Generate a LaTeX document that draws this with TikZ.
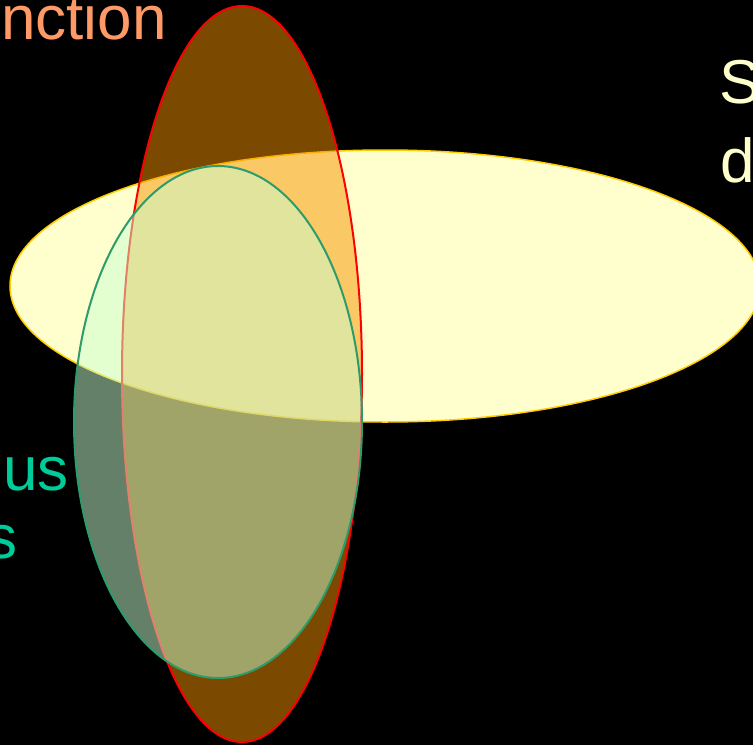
\documentclass[tikz,border=0pt]{standalone}
\usepackage{fontspec}
\setmainfont{Liberation Sans}
\definecolor{bgblack}{RGB}{0,0,0}
\definecolor{redfill}{RGB}{246,148,0}
\definecolor{redline}{RGB}{255,0,0}
\definecolor{yelfill}{RGB}{255,255,206}
\definecolor{yelline}{RGB}{255,204,0}
\definecolor{grnfill}{RGB}{200,255,210}
\definecolor{grnline}{RGB}{46,155,106}
\definecolor{txtorange}{RGB}{255,153,102}
\definecolor{txtyellow}{RGB}{255,255,204}
\definecolor{txtgreen}{RGB}{0,204,153}
\tikzset{
  lbl/.style={inner sep=0pt, font=\fontsize{62}{74}\selectfont},
}
\begin{document}
\begin{tikzpicture}[x=1pt,y=-1pt]
\fill[bgblack] (0,0) rectangle (753,745);
\useasboundingbox (0,0) rectangle (753,745);
% yellow ellipse (opaque)
\filldraw[fill=yelfill, draw=yelline, line width=1.5pt] (385,286) ellipse [x radius=375, y radius=136];
% red ellipse (half transparent fill)
\filldraw[fill=redfill, fill opacity=0.5, draw=redline, line width=2pt] (242,374) ellipse [x radius=120, y radius=368];
% green ellipse (half transparent fill)
\filldraw[fill=grnfill, fill opacity=0.5, draw=grnline, line width=2pt] (218,422) ellipse [x radius=144, y radius=256];
% labels
\node[lbl, text=txtorange, anchor=base west] (fn) at (1,39) {nction};
\node[lbl, text=txtyellow, anchor=base west] (s1) at (719,103) {S};
\node[lbl, text=txtyellow, anchor=base west] (d1) at (720,182) {d};
\node[lbl, text=txtgreen, anchor=base east] (us) at (69,490) {us};
\node[lbl, text=txtgreen, anchor=base east] (s2) at (18,558) {s};
\end{tikzpicture}
\end{document}
